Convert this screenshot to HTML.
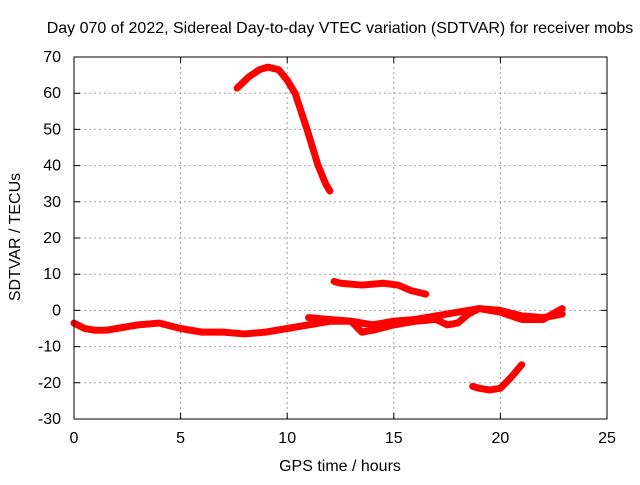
<!DOCTYPE html>
<html><head><meta charset="utf-8"><style>
body{margin:0;background:#fff}
svg text{font-family:"Liberation Sans",sans-serif;font-size:16px;fill:#000}
</style></head><body>
<svg id="chart" width="640" height="480" xmlns="http://www.w3.org/2000/svg">
<rect width="640" height="480" fill="#fff"/>
<g id="grid"></g><g id="series"></g><g id="axes"></g>
</svg>
<script>
const xTicks=[0,5,10,15,20,25];
const yTicks=[-30,-20,-10,0,10,20,30,40,50,60,70];
const arcA=[[0,-3.5],[0.5,-5],[1,-5.5],[1.5,-5.5],[2,-5],[3,-4],[4,-3.5],[5,-5],[6,-6],[7,-6],[8,-6.5],[9,-6],[10,-5],[11,-4],[12,-3],[13,-3],[14,-4],[15,-3],[16,-2.5],[17,-1.5],[18,-0.5],[19,0.5],[20,0],[21,-1.5],[22,-2],[22.9,-1]];
const arcB=[[11,-2],[12,-2.5],[13,-3],[13.5,-6],[14,-5.5],[15,-4],[16,-3],[17,-2.5],[17.5,-4],[18,-3.5],[18.5,-1],[19,0.5],[20,-0.5],[21,-2.5],[22,-2.5],[22.9,0.5]];
const arcPeak=[[7.65,61.4],[8.2,64.5],[8.7,66.5],[9.1,67.2],[9.6,66.5],[10,63.6],[10.37,60],[10.93,50],[11.45,40],[11.8,35],[12,33]];
const arcMid=[[12.2,8],[12.5,7.5],[13.5,7],[14.5,7.5],[15.2,7],[15.8,5.5],[16.5,4.5]];
const arcLow=[[18.7,-21],[19,-21.5],[19.5,-22],[20,-21.5],[20.5,-18.5],[21,-15]];
const X0=74,X1=607,Y0=419,Y1=57;
const sx=v=>X0+(v-0)/25*(X1-X0);
const sy=v=>Y0-(v+30)/100*(Y0-Y1);
const NS="http://www.w3.org/2000/svg";
function mk(t,a,p){const e=document.createElementNS(NS,t);for(const k in a)e.setAttribute(k,a[k]);p.appendChild(e);return e;}
const grid=document.getElementById('grid'),axes=document.getElementById('axes'),ser=document.getElementById('series');
xTicks.forEach(t=>{const x=sx(t);
 if(t>0&&t<25){const g=mk('line',{x1:x,x2:x,y1:Y1,y2:Y0,stroke:'#a0a0a0','stroke-dasharray':'2,3'},grid);
 }
 const tk=mk('path',{d:`M${x},${Y0}v-6M${x},${Y1}v6`,stroke:'#000'},axes);
 
 const l=mk('text',{x:x,y:443,'text-anchor':'middle'},axes);l.textContent=t;
 });
yTicks.forEach(t=>{const y=sy(t);
 if(t>-30&&t<70){const g=mk('line',{x1:X0,x2:X1,y1:y,y2:y,stroke:'#a0a0a0','stroke-dasharray':'2,3'},grid);
 }
 const tk=mk('path',{d:`M${X0},${y}h6M${X1},${y}h-6`,stroke:'#000'},axes);
 
 const l=mk('text',{x:61,y:y+5,'text-anchor':'end'},axes);l.textContent=t;
 });
const fr=mk('rect',{x:X0,y:Y1,width:X1-X0,height:Y0-Y1,fill:'none',stroke:'#000'},axes);

[[arcA,'series-arc-main'],[arcB,'series-arc-secondary'],[arcPeak,'series-arc-peak'],[arcMid,'series-arc-mid'],[arcLow,'series-arc-low']].forEach(([d,n])=>{
 const p=mk('polyline',{points:d.map(q=>sx(q[0])+','+sy(q[1])).join(' '),fill:'none',stroke:'#f00','stroke-width':7,'stroke-linejoin':'round','stroke-linecap':'round'},ser);
 });
const t=mk('text',{x:340,y:33,'text-anchor':'middle'},axes);t.textContent='Day 070 of 2022, Sidereal Day-to-day VTEC variation (SDTVAR) for receiver mobs';

const xl=mk('text',{x:340,y:471,'text-anchor':'middle'},axes);xl.textContent='GPS time / hours';

const yl=mk('text',{x:20,y:237,'text-anchor':'middle',transform:'rotate(-90 20 237)'},axes);yl.textContent='SDTVAR / TECUs';

</script>
</body></html>
